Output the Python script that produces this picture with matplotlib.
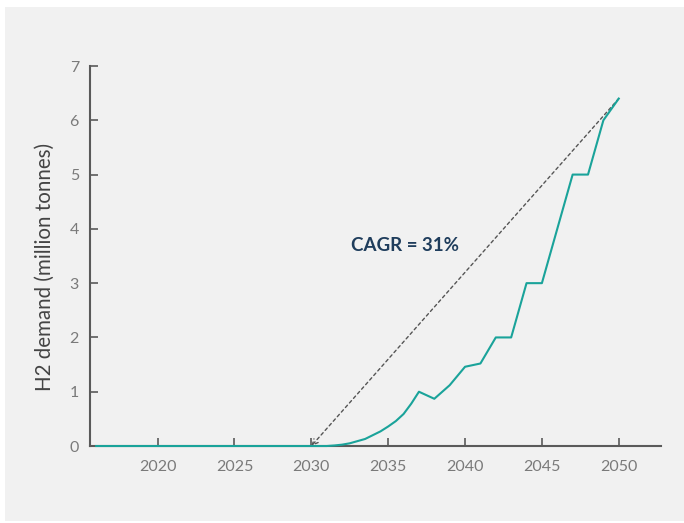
import matplotlib.pyplot as plt
from matplotlib.patches import Rectangle

# demand; the 2031-2037 ramp is drawn smooth in the original,
# so half-year readings are included there
years = [2016, 2020, 2025, 2030, 2031, 2031.5, 2032, 2032.5, 2033, 2033.5,
         2034, 2034.5, 2035, 2035.5, 2036, 2036.5, 2037,
         2038, 2039, 2040, 2041, 2042, 2043, 2044, 2045,
         2046, 2047, 2048, 2049, 2050]
demand = [0.0, 0.0, 0.0, 0.0, 0.0, 0.01, 0.025, 0.05, 0.09, 0.13,
          0.2, 0.27, 0.36, 0.46, 0.59, 0.78, 1.0,
          0.87, 1.12, 1.46, 1.52, 2.0, 2.0, 3.0, 3.0,
          4.0, 5.0, 5.0, 6.0, 6.4]
cagr_start = (2030, 0.0)
cagr_end = (2050, 6.4)
cagr_label = "CAGR = 31%"
x_ticks = [2020, 2025, 2030, 2035, 2040, 2045, 2050]
y_ticks = [0, 1, 2, 3, 4, 5, 6, 7]

plt.rcParams['font.family'] = ['Lato', 'DejaVu Sans']

fig = plt.figure(figsize=(6.84, 5.23), dpi=100)
fig.patch.set_facecolor('white')
fig.patches.append(Rectangle((0.0073, 0.0038), 1.0, 0.9828, transform=fig.transFigure,
                             facecolor='#f1f1f1', edgecolor='none', zorder=-10))

ax = fig.add_axes([0.1316, 0.1472, 0.8348, 0.7266])
ax.set_facecolor('none')

ax.plot(years, demand, color='#1aa39a', lw=1.5, zorder=5, clip_on=False)

ax.annotate('', xy=cagr_start, xytext=cagr_end,
            arrowprops=dict(arrowstyle='->', color='#555555', lw=1.0,
                            linestyle=(0, (2.2, 2.2)), shrinkA=0, shrinkB=0,
                            mutation_scale=10))
ax.text(2036.1, 3.7, cagr_label, color='#1f3d5c', fontsize=13.5,
        fontweight='bold', ha='center', va='center')

ax.set_xlim(2015.6, 2052.75)
ax.set_ylim(0, 7)
ax.set_xticks(x_ticks)
ax.set_yticks(y_ticks)
for s in ['top', 'right']:
    ax.spines[s].set_visible(False)
for s in ['left', 'bottom']:
    ax.spines[s].set_color('#5a5a5a')
    ax.spines[s].set_linewidth(1.5)
ax.tick_params(axis='both', direction='in', length=6, width=1.2, color='#5a5a5a',
               labelcolor='#7a7a7a', labelsize=11.5)
ax.tick_params(axis='x', pad=10)
ax.tick_params(axis='y', pad=8)
ax.set_ylabel('H2 demand (million tonnes)', fontsize=14.8, color='#444444')
ax.yaxis.set_label_coords(-0.062, 0.472)

fig.savefig('out.png', dpi=100)
